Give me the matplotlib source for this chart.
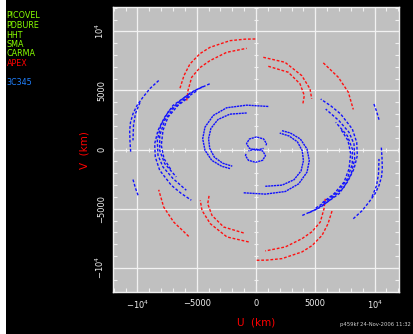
import matplotlib
matplotlib.use('Agg')
import matplotlib.pyplot as plt
from matplotlib.patches import Rectangle

# uv coverage (km) for one half of each baseline track; the conjugate
# half (-u, -v) is plotted from the same numbers
# APEX baselines
apex1_u = [-6407, -6070, -5564, -4721, -3878, -2192, -927, 59]
apex1_v = [5193, 6263, 7250, 8118, 8649, 9214, 9340, 9357]
apex2_u = [-5842, -5732, -5420, -4721, -3878, -2470, -784]
apex2_v = [4156, 4999, 6120, 6938, 7528, 8228, 8565]
apex3_u = [615, 2445, 3853, 4552, 4696]
apex3_v = [7806, 7385, 6263, 5142, 4299]
apex4_u = [1037, 2723, 3709, 4072, 3937]
apex4_v = [7047, 6542, 5564, 4577, 3794]
apex5_u = [5673, 6938, 7781, 8202]
apex5_v = [7334, 6120, 4856, 3397]

# baselines between the other stations
long1_u = [-8202, -8936, -9526, -10032, -10369, -10580, -10647, -10622, -10563]
long1_v = [5842, 5168, 4434, 3734, 3035, 2301, 1627, 700, -228]
long2_u = [-9779, -10158, -10327, -10369]
long2_v = [3987, 3060, 2048, 784]
long3_u = [-10369, -10158, -9888]
long3_v = [-2529, -3262, -3996]

mid1_u = [-3903, -5033, -6011, -6997, -7697, -8261, -8540, -8489, -8118, -7140, -6297, -5454]
mid1_v = [5564, 5058, 4434, 3734, 2748, 1627, 506, -624, -1745, -3010, -3709, -4274]
mid2_u = [-4468, -5454, -6432, -7418, -8034, -8320, -8261, -7840, -6997, -5876]
mid2_v = [5336, 4856, 4097, 3170, 2048, 784, -481, -1467, -2445, -3431]
mid3_u = [-5033, -6011, -6997, -7697, -8118, -8118, -7697, -6719]
mid3_v = [4940, 4299, 3456, 2470, 1205, -59, -1180, -2310]
mid4_u = [-5589, -6575, -7418, -7840, -7983, -7756, -7140]
mid4_v = [4493, 3734, 2748, 1627, 362, -759, -1745]

short1_u = [1037, -784, -2470, -3600, -4299, -4493, -4299, -3734, -2891, -2192]
short1_v = [3650, 3760, 3541, 2891, 1905, 927, -59, -902, -1408, -1602]
short2_u = [-784, -2200, -3200, -3800, -4000, -3900, -3500, -2800, -2000]
short2_v = [3100, 3000, 2550, 1800, 930, 100, -650, -1150, -1400]
short3_u = [843, 885, 641, 42, -556, -801, -556, 42, 641]
short3_v = [362, 506, 902, 1071, 902, 506, 110, -59, 110]

apex_tracks = [(apex1_u, apex1_v), (apex2_u, apex2_v), (apex3_u, apex3_v),
               (apex4_u, apex4_v), (apex5_u, apex5_v)]
other_tracks = [(long1_u, long1_v), (long2_u, long2_v), (long3_u, long3_v),
                (mid1_u, mid1_v), (mid2_u, mid2_v), (mid3_u, mid3_v),
                (mid4_u, mid4_v)]
inner_tracks = [(short1_u, short1_v), (short2_u, short2_v), (short3_u, short3_v)]

stations = ['PICOVEL', 'PDBURE', 'HHT', 'SMA', 'CARMA', 'APEX']
station_colors = ['#88ff00'] * 5 + ['#ff0000']
source = '3C345'

xticks = [-10000, -5000, 0, 5000, 10000]
xticklabels = [r'$-10^4$', '\u22125000', '0', '5000', r'$10^4$']

fig = plt.figure(figsize=(4.13, 3.34), dpi=100, facecolor='black')
fig.patches.append(Rectangle((0, 0), 6 / 413, 1, transform=fig.transFigure,
                             facecolor='white', edgecolor='none'))
ax = fig.add_axes([0.2743, 0.126, 0.6911, 0.852])
ax.set_facecolor('#c0c0c0')


def draw(tracks, color, dashes):
    for u, v in tracks:
        ax.plot(u, v, color=color, lw=1.0, dashes=dashes)
        ax.plot([-a for a in u], [-b for b in v], color=color, lw=1.0, dashes=dashes)


draw(apex_tracks, '#ff1010', (2.0, 1.3))
draw(other_tracks, '#1010ff', (2.0, 1.3))
draw(inner_tracks, '#1010ff', (1.6, 0.5))

ax.set_xlim(-12030, 12030)
ax.set_ylim(-12030, 12030)

ax.set_xticks(xticks)
ax.set_xticklabels(xticklabels)
ax.set_yticks(xticks)
ax.set_yticklabels(xticklabels, rotation=90, va='center')
ax.set_xticks(range(-12000, 12001, 1000), minor=True)
ax.set_yticks(range(-12000, 12001, 1000), minor=True)
ax.tick_params(which='both', direction='in', top=True, right=True,
               color='#f0f0f0', labelcolor='#f0f0f0', labelsize=6, pad=5)
ax.tick_params(which='major', length=5, width=0.8)
ax.tick_params(which='minor', length=3, width=0.8)
ax.grid(True, which='major', color='#f2f2f2', lw=0.9)
ax.set_axisbelow(True)
for sp in ax.spines.values():
    sp.set_color('#f0f0f0')
    sp.set_linewidth(1.0)

# tick marks along the zero lines
for sec in (ax.secondary_xaxis(0.5), ax.secondary_yaxis(0.5)):
    sec.spines[:].set_visible(False)
    sec.tick_params(which='both', direction='inout', color='#f0f0f0',
                    labelbottom=False, labelleft=False, labeltop=False,
                    labelright=False, length=3, width=0.8)
    sec.set_ticks(range(-12000, 12001, 1000))

ax.set_xlabel('U  (km)', color='#ff0000', fontsize=7.5)
ax.set_ylabel('V  (km)', color='#ff0000', fontsize=7.5)
# axis titles placed in figure pixels
ax.xaxis.set_label_coords((256.5 - 113.3) / 285.4, -(323 - 292) / 284.7)
ax.yaxis.set_label_coords(-(113.3 - 85) / 285.4, 0.5)
ax.xaxis.label.set_va('center')
ax.yaxis.label.set_va('center')

for i, (name, c) in enumerate(zip(stations, station_colors)):
    fig.text(6.7 / 413, 1 - (16 + 9.5 * i) / 334, name, color=c,
             fontsize=5.8, va='center', ha='left')
fig.text(6.7 / 413, 1 - 82.3 / 334, source, color='#2080ff',
         fontsize=5.8, va='center', ha='left')
fig.text(340 / 413, 1 - 324.5 / 334, 'p459kf 24-Nov-2006 11:32',
         color='#d0d0d0', fontsize=3.8, va='center', ha='left')

fig.savefig('out.png', dpi=100, facecolor='black')
